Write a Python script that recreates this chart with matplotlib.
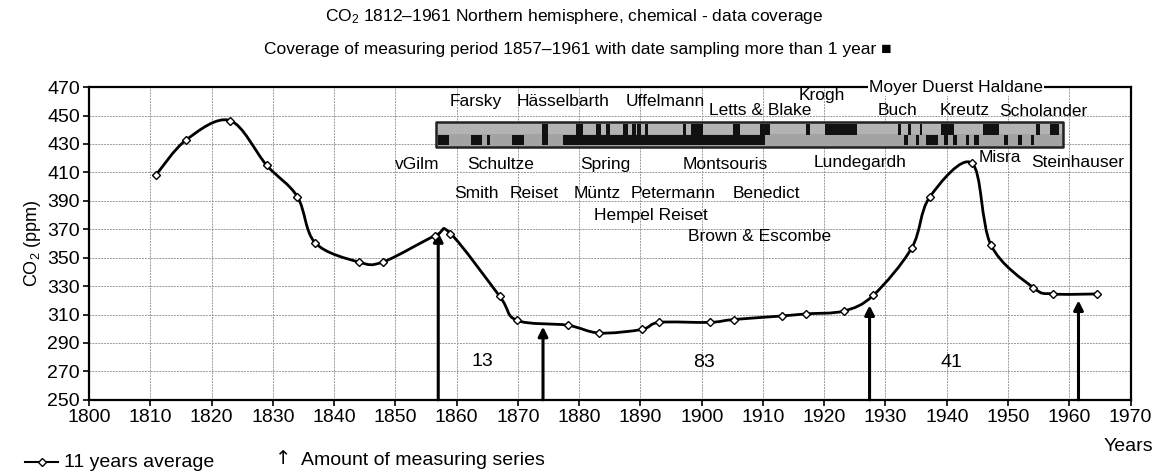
import matplotlib.pyplot as plt
from matplotlib.path import Path
from matplotlib.patches import PathPatch
from matplotlib.lines import Line2D
import numpy as np

plt.rcParams['font.family'] = ['Liberation Sans', 'DejaVu Sans']
plt.rcParams['mathtext.fontset'] = 'custom'
plt.rcParams['mathtext.rm'] = 'Liberation Sans'
plt.rcParams['mathtext.it'] = 'Liberation Sans:italic'

# 11 years average curve
years = [1810.9, 1815.9, 1823.0, 1829.0, 1834.0, 1836.9, 1844.0, 1848.0,
         1856.5, 1859.0, 1867.0, 1869.8, 1878.1, 1883.3, 1890.2, 1893.1,
         1901.3, 1905.2, 1913.1, 1917.1, 1923.2, 1928.0, 1934.3, 1937.2,
         1944.1, 1947.2, 1954.1, 1957.3, 1964.5]
co2 = [408, 433, 446.5, 415, 393, 360.5, 347, 347,
       365.5, 367, 323, 306, 302.5, 297, 299.5, 304.5,
       304.5, 306.5, 309, 310.5, 312.5, 323.5, 357, 392.5,
       416.5, 359, 329, 324.5, 324.5]

# amount of measuring series (arrows + counts)
arrow_years = [1857.0, 1874.1, 1927.4, 1961.5]
arrow_tops = [368, 301.5, 316.5, 320]
count_years = [1864.2, 1900.3, 1940.7]
count_vals = [277, 276, 276]
count_labels = ['13', '83', '41']

# researchers
names = ['Farsky', 'Hässelbarth', 'Uffelmann', 'Letts & Blake', 'Krogh',
         'Buch', 'Kreutz', 'Scholander', 'vGilm', 'Schultze', 'Spring',
         'Montsouris', 'Lundegardh', 'Misra', 'Steinhauser', 'Smith',
         'Reiset', 'Müntz', 'Petermann', 'Benedict', 'Hempel Reiset',
         'Brown & Escombe']
name_x = [1863.2, 1877.4, 1894.1, 1909.6, 1919.6, 1931.9, 1942.9, 1955.7,
          1853.5, 1867.2, 1884.3, 1903.8, 1925.8, 1948.9, 1961.4, 1863.3,
          1872.7, 1882.9, 1895.3, 1910.6, 1891.7, 1909.5]
name_y = [460, 460, 460, 453.4, 464.4, 453.8, 453.8, 452.7,
          415.7, 415.7, 415.7, 415.7, 416.8, 420.6, 416.8, 395.3,
          395.3, 395.3, 395.3, 395.3, 379.4, 364.8]

# data coverage strip (start, end) years
strip_span = (1856.6, 1959.0)
upper_bars = [(1874.0, 1874.9), (1879.5, 1880.6), (1882.8, 1883.6),
              (1884.4, 1885.1), (1887.2, 1888.0), (1888.7, 1889.2),
              (1889.4, 1890.1), (1890.7, 1891.2), (1897.0, 1897.5),
              (1898.3, 1900.2), (1905.1, 1906.2), (1909.5, 1911.1),
              (1917.0, 1917.6), (1920.2, 1925.4), (1932.0, 1932.6),
              (1933.7, 1934.2), (1935.6, 1936.0), (1939.1, 1941.2),
              (1945.9, 1948.5), (1954.6, 1955.2), (1956.8, 1958.4)]
lower_bars = [(1857.0, 1858.8), (1862.4, 1864.1), (1864.9, 1865.5),
              (1869.0, 1871.0), (1874.0, 1874.9), (1877.4, 1910.3),
              (1933.1, 1933.7), (1934.9, 1935.4), (1936.6, 1938.5),
              (1939.5, 1940.2), (1941.0, 1941.7), (1943.1, 1943.6),
              (1944.5, 1945.3), (1949.4, 1950.0), (1951.6, 1952.2),
              (1953.8, 1954.3)]


def smooth_path(x, y):
    p = np.column_stack([x, y])
    pts = np.vstack([p[0], p, p[-1]])
    verts = [p[0]]
    codes = [Path.MOVETO]
    for i in range(1, len(pts) - 2):
        c1 = pts[i] + (pts[i + 1] - pts[i - 1]) / 6
        c2 = pts[i + 1] - (pts[i + 2] - pts[i]) / 6
        verts += [c1, c2, pts[i + 1]]
        codes += [Path.CURVE4] * 3
    return Path(verts, codes)


fig = plt.figure(figsize=(11.56, 4.76), dpi=100)
ax = fig.add_axes([0.077, 0.160, 0.901, 0.657])

ax.set_xlim(1800, 1970)
ax.set_ylim(250, 470)
ax.set_xticks(np.arange(1800, 1971, 10))
ax.set_yticks(np.arange(250, 471, 20))
ax.tick_params(labelsize=14, direction='out', length=4, width=1.2, pad=2.5)
ax.grid(color='#9a9a9a', lw=0.7, ls=(0, (2, 1)))
ax.set_axisbelow(True)
for s in ax.spines.values():
    s.set_linewidth(1.6)
ax.set_ylabel('CO$_2$ (ppm)', fontsize=13, labelpad=3)

# curve
ax.add_patch(PathPatch(smooth_path(years, co2), fill=False, lw=2, color='k', zorder=4))
ax.plot(years, co2, ls='none', marker='D', ms=4.5, mfc='white', mec='k', mew=1, zorder=5)

# arrows
for x, top in zip(arrow_years, arrow_tops):
    ax.annotate('', xy=(x, top), xytext=(x, 250),
                arrowprops=dict(arrowstyle='-|>', lw=2.2, color='k',
                                mutation_scale=14, shrinkA=0, shrinkB=0))
for x, v, t in zip(count_years, count_vals, count_labels):
    ax.text(x, v, t, fontsize=14, ha='center', va='center')

# coverage strip
ax.broken_barh([(strip_span[0], strip_span[1] - strip_span[0])], (437, 8.6),
               facecolors='#b3b3b3', zorder=3)
ax.broken_barh([(strip_span[0], strip_span[1] - strip_span[0])], (428, 9),
               facecolors='#a3a3a3', zorder=3)
ax.broken_barh([(a, b - a) for a, b in upper_bars], (436, 7.8), facecolors='#111', zorder=3)
ax.broken_barh([(a, b - a) for a, b in lower_bars], (429, 7.5), facecolors='#111', zorder=3)
ax.broken_barh([(strip_span[0], strip_span[1] - strip_span[0])], (428, 17.6),
               facecolors='none', edgecolors='#222', lw=1.8, zorder=3)

for n, x, y in zip(names, name_x, name_y):
    ha = 'left' if n == 'Misra' else 'center'
    if n == 'Misra':
        x = 1945.2
    ax.text(x, y, n, fontsize=12.5, ha=ha, va='center', zorder=4)

ax.text(1941.5, 470, 'Moyer Duerst Haldane', fontsize=12.5, ha='center', va='center',
        zorder=6, clip_on=False,
        bbox=dict(facecolor='white', edgecolor='none', pad=1))

# titles
fig.text(0.497, 0.966, 'CO$_2$ 1812–1961 Northern hemisphere, chemical - data coverage',
         ha='center', va='center', fontsize=12.5)
fig.text(0.5, 0.895, 'Coverage of measuring period 1857–1961 with date sampling more than 1 year ■',
         ha='center', va='center', fontsize=12.5)

# legend and axis title at bottom
fig.add_artist(Line2D([0.022, 0.050], [0.029, 0.029], color='k', lw=1.5))
fig.add_artist(Line2D([0.036], [0.029], marker='D', ms=4.5, mfc='white', mec='k', mew=1))
fig.text(0.055, 0.029, '11 years average', fontsize=14, va='center')
fig.text(0.245, 0.036, '↑', fontsize=14, va='center', ha='center', family=['DejaVu Sans'])
fig.text(0.260, 0.033, 'Amount of measuring series', fontsize=14, va='center')
fig.text(0.976, 0.061, 'Years', fontsize=14, ha='center', va='center')

fig.savefig('out.png', dpi=100)
